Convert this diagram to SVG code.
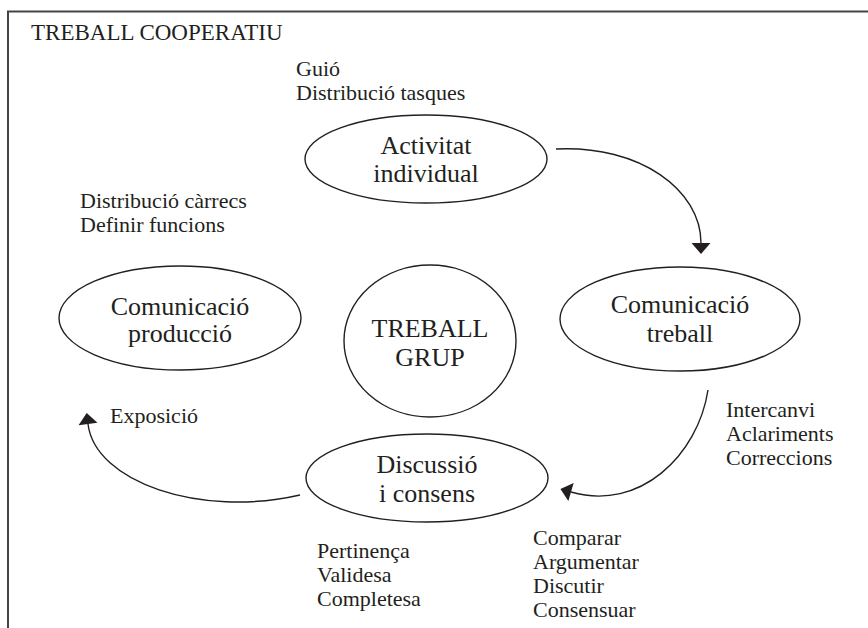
<svg xmlns="http://www.w3.org/2000/svg" width="868" height="628" viewBox="0 0 868 628">
<style>
  text { font-family: "Liberation Serif", "Times New Roman", serif; fill: #231f20; }
  .lbl { font-size: 22px; }
  .title { font-size: 23px; }
  .node text { font-size: 26px; text-anchor: middle; }
  .node ellipse { fill: none; stroke: #231f20; stroke-width: 1.4; }
  .conn path { fill: none; stroke: #231f20; stroke-width: 1.4; }
  .frame { stroke: #444; stroke-width: 2; fill: none; }
</style>
<defs>
  <marker id="ah" viewBox="-1 -10 13 20" refX="0" refY="0" markerWidth="13" markerHeight="20" markerUnits="userSpaceOnUse" orient="auto">
    <path d="M0,-9.5 L11,0 L0,9.5 Z" fill="#231f20"/>
  </marker>
</defs>
<rect width="868" height="628" fill="#fff"/>
<path class="frame" d="M8,628 L8,11.5 L868,11.5"/>
<text class="title" x="31" y="40">TREBALL COOPERATIU</text>

<g id="labels" class="lbl">
  <text class="lbl" x="296" y="76">Guió</text>
  <text class="lbl" x="296" y="100">Distribució tasques</text>
  <text class="lbl" x="80" y="208">Distribució càrrecs</text>
  <text class="lbl" x="80" y="232">Definir funcions</text>
  <text class="lbl" x="110" y="423">Exposició</text>
  <text class="lbl" x="726" y="417">Intercanvi</text>
  <text class="lbl" x="726" y="441">Aclariments</text>
  <text class="lbl" x="726" y="465">Correccions</text>
  <text class="lbl" x="533" y="545">Comparar</text>
  <text class="lbl" x="533" y="569">Argumentar</text>
  <text class="lbl" x="533" y="593">Discutir</text>
  <text class="lbl" x="533" y="617">Consensuar</text>
  <text class="lbl" x="317" y="558">Pertinença</text>
  <text class="lbl" x="317" y="582">Validesa</text>
  <text class="lbl" x="317" y="606">Completesa</text>
</g>

<g id="node-activitat" class="node">
  <ellipse cx="426" cy="159" rx="121" ry="44"/>
  <text x="426" y="154">Activitat</text>
  <text x="426" y="182">individual</text>
</g>
<g id="node-com-treball" class="node">
  <ellipse cx="680" cy="319" rx="120" ry="52"/>
  <text x="680" y="313">Comunicació</text>
  <text x="680" y="342">treball</text>
</g>
<g id="node-com-produccio" class="node">
  <ellipse cx="180" cy="318" rx="121" ry="52"/>
  <text x="180" y="315">Comunicació</text>
  <text x="180" y="342">producció</text>
</g>
<g id="node-grup" class="node">
  <ellipse cx="430" cy="341" rx="86" ry="76"/>
  <text x="430" y="337">TREBALL</text>
  <text x="430" y="366">GRUP</text>
</g>
<g id="node-discussio" class="node">
  <ellipse cx="427" cy="478" rx="121" ry="44"/>
  <text x="427" y="473">Discussió</text>
  <text x="427" y="502">i consens</text>
</g>

<g id="connectors" class="conn">
  <path d="M556,149 C640,145 701,190 701,243" marker-end="url(#ah)"/>
  <path d="M708,390 C698,455 640,512 571,492" marker-end="url(#ah)"/>
  <path d="M300,495 C200,518 95,482 88,424" marker-end="url(#ah)"/>
</g>
</svg>
